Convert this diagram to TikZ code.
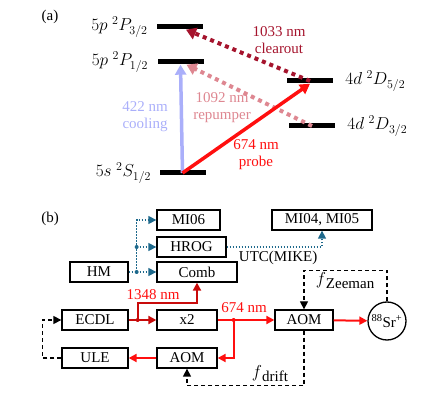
\documentclass[tikz,border=0pt]{standalone}
\usepackage{fontspec}
\setmainfont{Liberation Serif}
\usetikzlibrary{arrows.meta}
\definecolor{cooling}{RGB}{170,175,250}
\definecolor{repump}{RGB}{222,135,145}
\definecolor{clearout}{RGB}{165,20,45}
\definecolor{probe}{RGB}{255,15,15}
\definecolor{ir}{RGB}{200,10,10}
\definecolor{utc}{RGB}{30,105,140}
\begin{document}
\begin{tikzpicture}[x=1pt, y=-1pt,
    every node/.style={font=\fontsize{15}{17}\selectfont},
    level/.style={fill, minimum width=46pt, minimum height=5pt, inner sep=0pt},
    term/.style={font=\fontsize{18}{20}\selectfont, inner sep=0pt},
    beam/.style={line width=3.5pt, -{Triangle[length=10pt, width=11pt]}},
    dotbeam/.style={line width=4pt, dash pattern=on 4pt off 4pt, -{Triangle[length=10pt, width=12pt]}},
    box/.style={draw, line width=1.3pt, minimum height=20pt, inner sep=0pt},
    tip/.style={-{Triangle[length=8pt, width=8pt]}},
    irbeam/.style={ir, line width=2pt, tip},
    probebeam/.style={probe, line width=2pt, tip},
    utcline/.style={utc, line width=1.3pt, dash pattern=on 1.5pt off 1.5pt},
    fb/.style={line width=1.3pt, dash pattern=on 4pt off 3pt}
  ]
  \useasboundingbox (0,0) rectangle (442,403);
  % (a) levels
  \node at (50,17) {(a)};
  \node[level] (P32) at (180,27) {};
  \node[level] (P12) at (180.5,62) {};
  \node[level] (S12) at (182.5,173) {};
  \node[level] (D52) at (310,81) {};
  \node[level] (D32) at (312,126) {};
  \node[term, anchor=east] at ([xshift=-9pt]P32.west) {$5p\ {}^2P_{3/2}$};
  \node[term, anchor=east] at ([xshift=-9pt]P12.west) {$5p\ {}^2P_{1/2}$};
  \node[term, anchor=east] at ([xshift=-8pt]S12.west) {$5s\ {}^2S_{1/2}$};
  \node[term, anchor=west] at ([xshift=12pt]D52.east) {$4d\ {}^2D_{5/2}$};
  \node[term, anchor=west] at ([xshift=12pt]D32.east) {$4d\ {}^2D_{3/2}$};
  \draw[beam, cooling] (S12.center) -- (P12.south);
  \draw[dotbeam, repump] (D32.center) -- ([xshift=6pt]P12.south);
  \draw[dotbeam, clearout] (D52.center) -- ([xshift=6pt]P32.south);
  \draw[beam, probe] (S12.center) -- (D52.south);
  \node[align=center, text=cooling] at (145,117) {422 nm\\cooling};
  \node[align=center, text=repump] at (222,108) {1092 nm\\repumper};
  \node[align=center, text=clearout] at (279,40) {1033 nm\\clearout};
  \node[align=center, text=probe] at (256,155) {674 nm\\probe};
  % (b) setup
  \node at (50,219) {(b)};
  \node[box, minimum width=63pt] (MI06) at (188.5,220) {MI06};
  \node[box, minimum width=100pt] (MI0405) at (322,220) {MI04, MI05};
  \node[box, minimum width=69pt] (HROG) at (191.5,247) {HROG};
  \node[box, minimum width=58pt] (HM) at (99,272) {HM};
  \node[box, minimum width=80pt] (Comb) at (197,272) {Comb};
  \node[box, minimum width=66pt] (ECDL) at (95,320) {ECDL};
  \node[box, minimum width=60pt] (x2) at (187,320) {x2};
  \node[box, minimum width=58pt] (AOM) at (304,320) {AOM};
  \node[draw, circle, line width=1.3pt, minimum size=38pt, inner sep=0pt] (Sr) at (387,321) {\textsuperscript{88}Sr\textsuperscript{+}};
  \node[box, minimum width=66pt] (ULE) at (95,358) {ULE};
  \node[box, minimum width=60pt] (AOMb) at (187,358) {AOM};
  % frequency distribution
  \coordinate (hmj) at ([xshift=8pt]HM.east);
  \draw[utcline] (HM) -- (hmj);
  \draw[utcline, tip] (hmj) -- (Comb);
  \draw[utcline, tip] (hmj) |- (MI06);
  \draw[utcline, tip] (hmj |- HROG) -- (HROG);
  \fill[utc] (hmj) circle (2pt) (hmj |- HROG) circle (2pt);
  \draw[utcline, tip] (HROG) -| node[pos=0.27, below, text=black] {UTC(MIKE)} (MI0405);
  % lasers
  \coordinate (ej) at ([xshift=9pt]ECDL.east);
  \draw[irbeam] (ECDL) -- (x2);
  \draw[irbeam] (ej) -- ++(0,-17) -| (Comb);
  \fill[ir] (ej) circle (2pt);
  \node[text=probe] at (153,295) {1348 nm};
  \coordinate (xj) at ([xshift=16pt]x2.east);
  \draw[probebeam] (x2) -- (AOM);
  \draw[probebeam] (xj) |- (AOMb);
  \draw[probebeam] (AOMb) -- (ULE);
  \draw[probebeam] (AOM) -- (Sr);
  \fill[probe] (xj) circle (2pt);
  \node[text=probe] at (244,308) {674 nm};
  % feedback
  \draw[fb, tip] (ULE.west) -- ++(-19,0) |- (ECDL);
  \draw[fb, tip] (Sr.north) -- ++(0,-31) -| (AOM);
  \draw[fb, tip] (AOM.south) -- ++(0,55) -| (AOMb);
  \node at (345,281) {\fontsize{19}{19}\selectfont$f$\raisebox{-4pt}{\fontsize{15}{17}\selectfont Zeeman}};
  \node at (270,374) {\fontsize{19}{19}\selectfont$f$\raisebox{-4pt}{\fontsize{15}{17}\selectfont drift}};
\end{tikzpicture}
\end{document}
